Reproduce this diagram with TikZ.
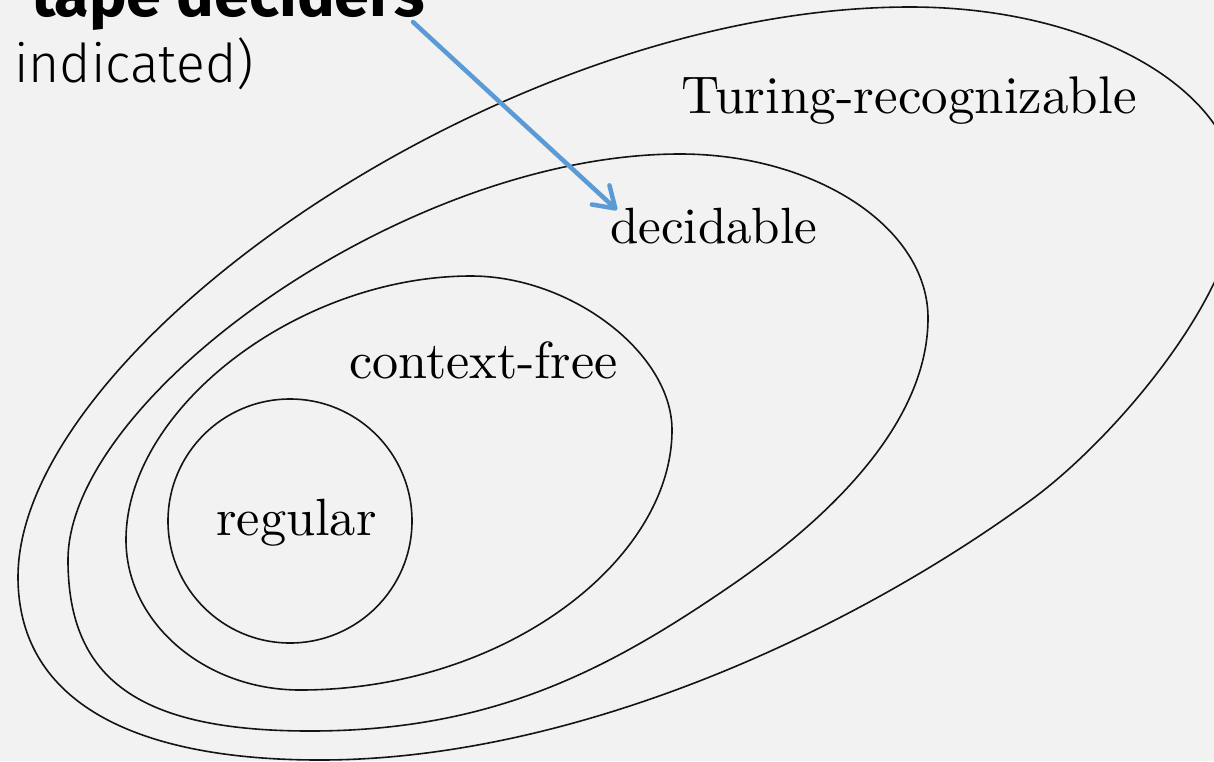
\documentclass[tikz,border=0pt]{standalone}
\usepackage{fontspec}
\newfontfamily\firasans{Fira Sans}
\newfontfamily\firalight{Fira Sans Light}
\newfontfamily\labfont{lmroman10-regular}[Extension=.otf]
\usetikzlibrary{arrows.meta}
\definecolor{bgc}{HTML}{F2F2F2}
\definecolor{arrowblue}{HTML}{5B9BD5}
\begin{document}
\begin{tikzpicture}[x=1pt,y=-1pt,
  setline/.style={line width=1.6pt, draw=black!92},
  lab/.style={inner sep=0pt, anchor=base west, font=\labfont\fontsize{53}{62}\selectfont},
  pointer/.style={draw=arrowblue, line width=4.5pt, line cap=round,
    -{Straight Barb[length=20pt,width=26pt,line cap=round,line join=round]}}]
\useasboundingbox (0,0) rectangle (1214,761);
\fill[bgc] (0,0) rectangle (1214,761);
\clip (0,0) rectangle (1214,761);

% Turing-recognizable
\draw[setline] (18,577) .. controls (18,349) and (503,7) .. (910,7)
  .. controls (1095,7) and (1238,92) .. (1238,195)
  .. controls (1238,295) and (1112,441) .. (1031,500)
  .. controls (845,636) and (570,760) .. (320,760)
  .. controls (124,760) and (18,696) .. cycle;

% decidable
\draw[setline] (68,560) .. controls (68,398) and (405,154) .. (680,154)
  .. controls (816,154) and (928,228) .. (928,318)
  .. controls (928,428) and (820,525) .. (729,587)
  .. controls (605,672) and (490,731) .. (310,731)
  .. controls (140,731) and (68,680) .. cycle;

% context-free
\draw[setline] (126,540) .. controls (126,408) and (299,276) .. (471,276)
  .. controls (571,276) and (672,353) .. (672,430)
  .. controls (672,560) and (505,690) .. (300,690)
  .. controls (204,690) and (126,622) .. cycle;

% regular
\draw[setline] (290,521) circle (122);

\node[lab] (tr) at (681,113) {Turing-recognizable};
\node[lab, font=\labfont\fontsize{51}{60}\selectfont] (dec) at (610,243) {decidable};
\node[lab, font=\labfont\fontsize{52.2}{60}\selectfont] (cf) at (349,378) {context-free};
\node[lab, font=\labfont\fontsize{52.4}{60}\selectfont] (reg) at (216,535) {regular};

\node[inner sep=0pt, anchor=base west, font=\firasans\bfseries\fontsize{63}{70}\selectfont] (td) at (31,16) {tape deciders};
\node[inner sep=0pt, anchor=base west, font=\firalight\fontsize{53.5}{62}\selectfont] (ind) at (14,82) {indicated)};

\coordinate (astart) at (413,22);
\coordinate (aend) at (617,210);
\draw[pointer] (astart) -- (aend);
\end{tikzpicture}
\end{document}
